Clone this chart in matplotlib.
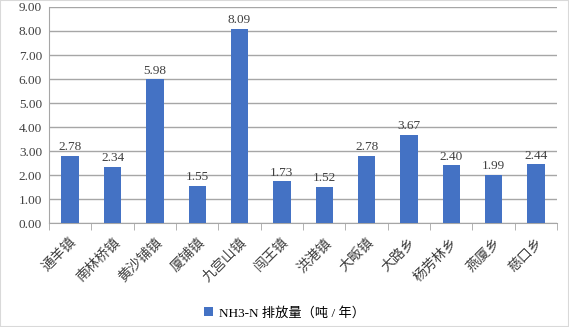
import matplotlib.pyplot as plt
import numpy as np

towns = ['通羊镇', '南林桥镇', '黄沙铺镇', '厦铺镇', '九宫山镇', '闯王镇',
         '洪港镇', '大畈镇', '大路乡', '杨芳林乡', '燕厦乡', '慈口乡']
nh3n = [2.78, 2.34, 5.98, 1.55, 8.09, 1.73, 1.52, 2.78, 3.67, 2.40, 1.99, 2.44]
yticks = [0, 1, 2, 3, 4, 5, 6, 7, 8, 9]

fonts = ['Liberation Serif', 'Noto Sans CJK SC', 'DejaVu Sans']
plt.rcParams['font.family'] = fonts

grid_c = '#A6A6A6'
bar_c = '#4472C4'
txt_c = '#404040'

fig = plt.figure(figsize=(5.69, 3.27), dpi=100)
ax = fig.add_axes([0.0861, 0.318, 0.893, 0.6606])

x = np.arange(len(towns))
ax.bar(x, nh3n, width=0.41, color=bar_c, zorder=3, label='NH3-N 排放量（吨 / 年）')
for xi, v in zip(x, nh3n):
    ax.text(xi, v + 0.12, f'{v:.2f}', ha='center', va='bottom', fontsize=9.5, color=txt_c)

ax.set_xlim(-0.5, len(towns) - 0.5)
ax.set_ylim(0, 9)
ax.set_yticks(yticks)
ax.set_yticklabels([f'{t:.2f}' for t in yticks], fontsize=9.5, color=txt_c)
ax.yaxis.grid(True, color=grid_c, linewidth=1, zorder=0)
ax.tick_params(axis='y', length=0, pad=5)

ax.set_xticks(x)
ax.set_xticklabels(towns, rotation=45, ha='right', rotation_mode='anchor', fontsize=10, color=txt_c)
ax.set_xticks(np.arange(-0.5, len(towns)), minor=True)
ax.tick_params(axis='x', which='major', length=0, pad=9)
ax.tick_params(axis='x', which='minor', length=5, color=grid_c)

for s in ['top', 'right']:
    ax.spines[s].set_visible(False)
ax.spines['left'].set_color(grid_c)
ax.spines['bottom'].set_color(grid_c)

fig.legend(loc='center', bbox_to_anchor=(0.5, 0.043), frameon=False, fontsize=9.5,
           handlelength=0.7, handleheight=0.7, handletextpad=0.4)

fig.patches.append(plt.Rectangle((0, 0), 1, 1, transform=fig.transFigure,
                                 fill=False, edgecolor='#D9D9D9', linewidth=1.5))

fig.savefig('out.png', dpi=100)
